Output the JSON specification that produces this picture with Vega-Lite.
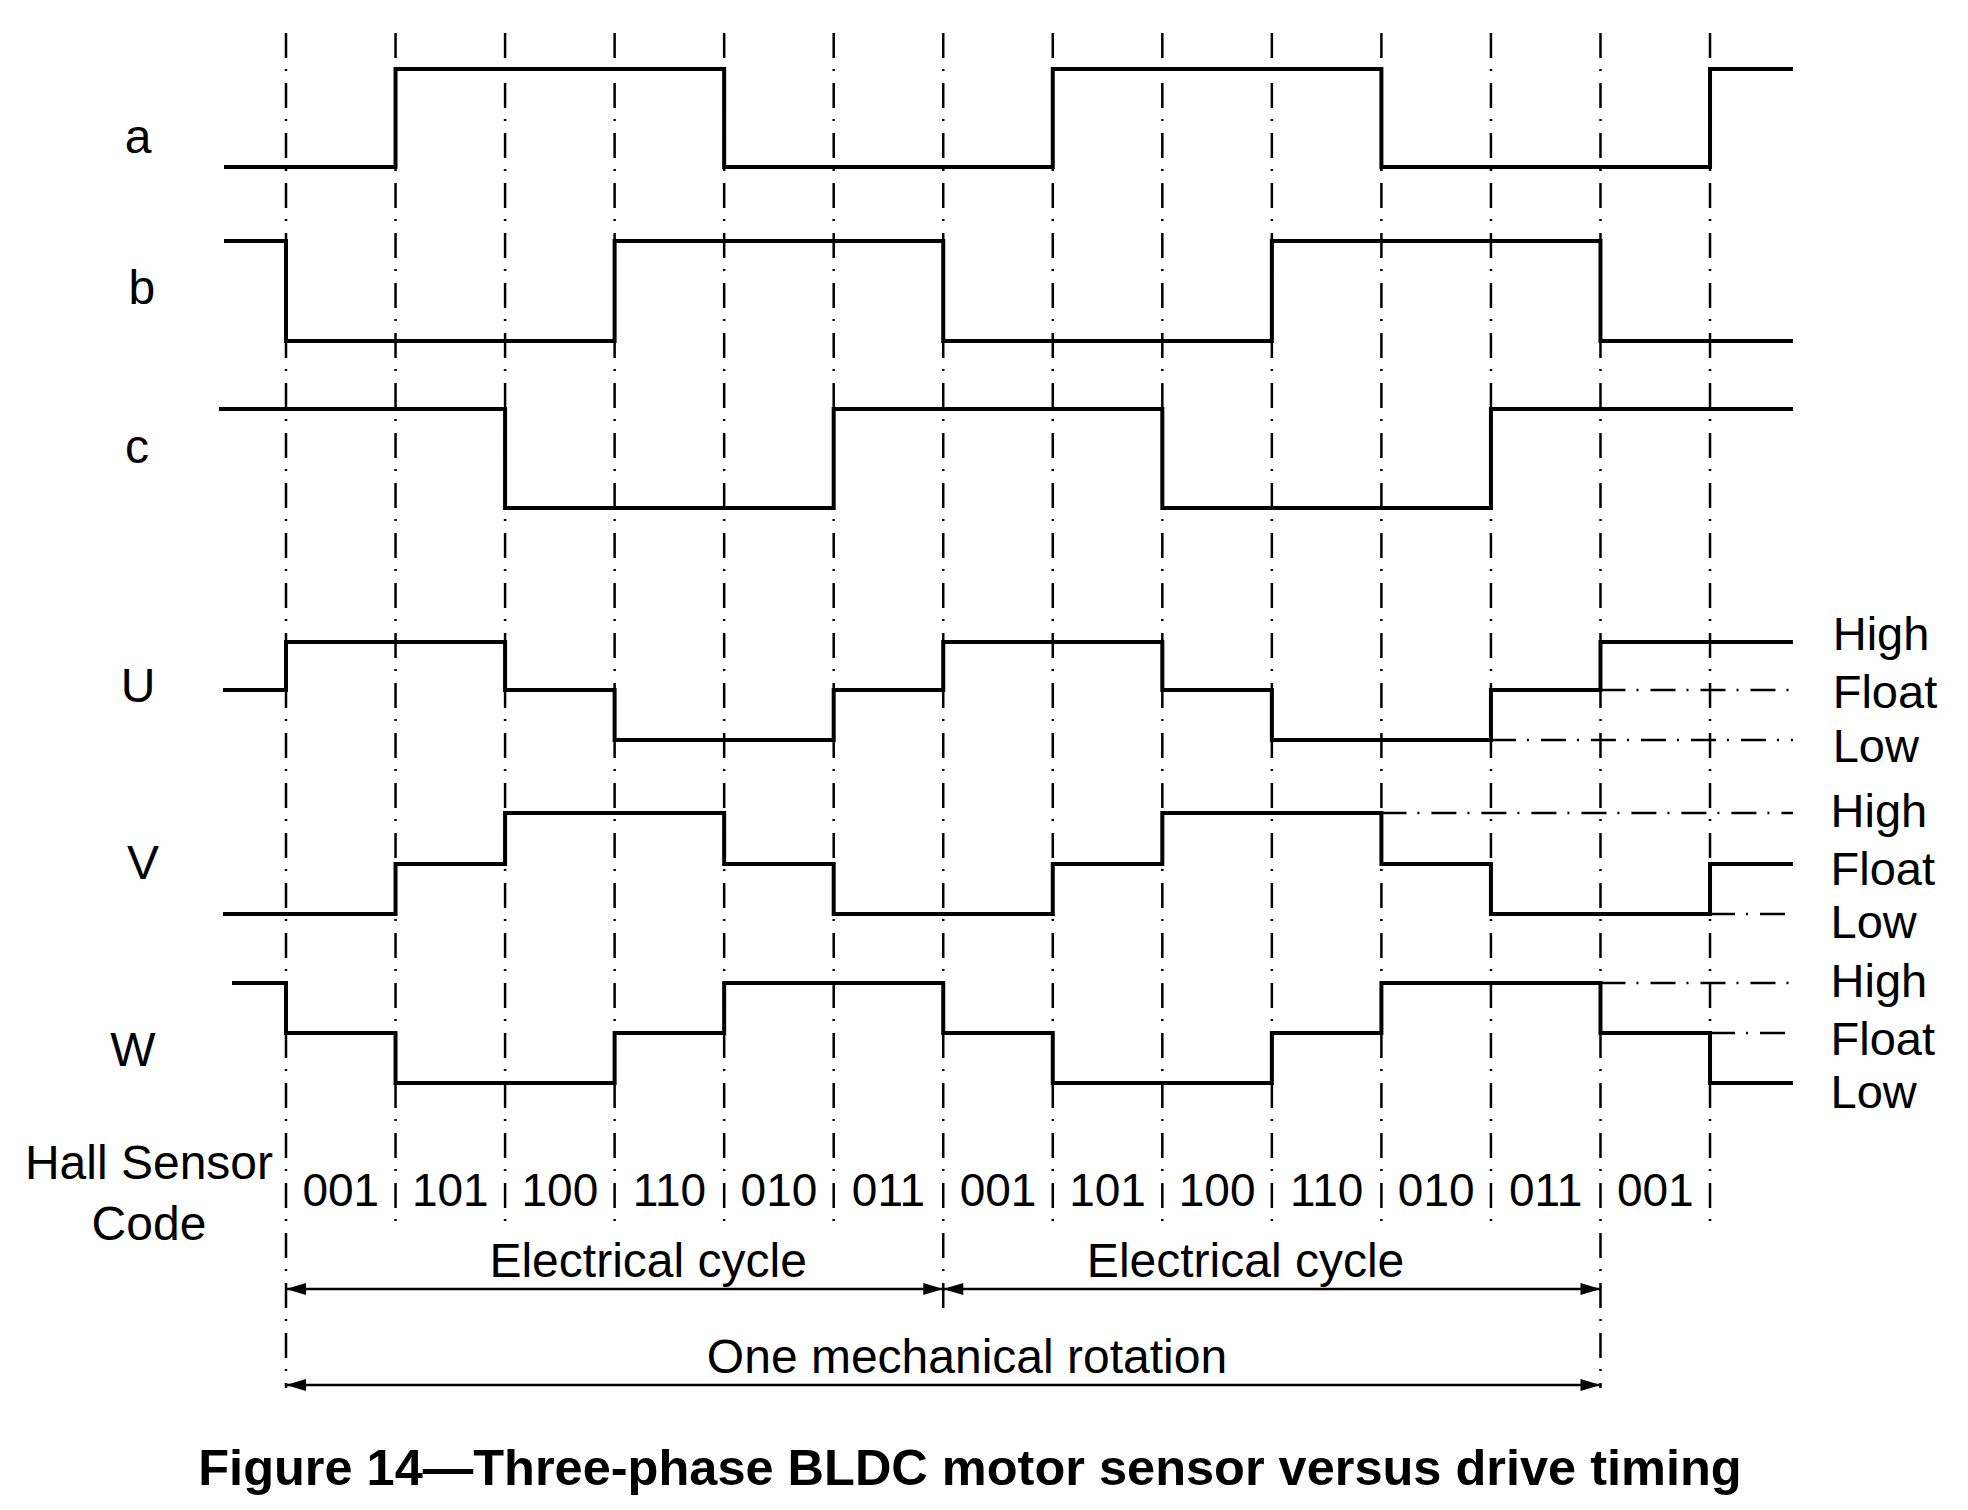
{
  "$schema": "https://vega.github.io/schema/vega-lite/v6.json",
  "width": 1968,
  "height": 1510,
  "autosize": {"type": "none"},
  "padding": 0,
  "background": "white",
  "config": {"view": {"stroke": null}, "text": {"font": "Liberation Sans", "color": "black"}},
  "datasets": {
    "signals": [
      {"sig": "a", "t": -0.566, "y": 167}, {"sig": "a", "t": 1, "y": 69}, {"sig": "a", "t": 4, "y": 167}, {"sig": "a", "t": 7, "y": 69}, {"sig": "a", "t": 10, "y": 167}, {"sig": "a", "t": 13, "y": 69}, {"sig": "a", "t": 13.757, "y": 69},
      {"sig": "b", "t": -0.566, "y": 241}, {"sig": "b", "t": 0, "y": 341}, {"sig": "b", "t": 3, "y": 241}, {"sig": "b", "t": 6, "y": 341}, {"sig": "b", "t": 9, "y": 241}, {"sig": "b", "t": 12, "y": 341}, {"sig": "b", "t": 13.757, "y": 341},
      {"sig": "c", "t": -0.612, "y": 409}, {"sig": "c", "t": 2, "y": 508}, {"sig": "c", "t": 5, "y": 409}, {"sig": "c", "t": 8, "y": 508}, {"sig": "c", "t": 11, "y": 409}, {"sig": "c", "t": 13.757, "y": 409},
      {"sig": "U", "t": -0.575, "y": 690}, {"sig": "U", "t": 0, "y": 642}, {"sig": "U", "t": 2, "y": 690}, {"sig": "U", "t": 3, "y": 740}, {"sig": "U", "t": 5, "y": 690}, {"sig": "U", "t": 6, "y": 642}, {"sig": "U", "t": 8, "y": 690}, {"sig": "U", "t": 9, "y": 740}, {"sig": "U", "t": 11, "y": 690}, {"sig": "U", "t": 12, "y": 642}, {"sig": "U", "t": 13.757, "y": 642},
      {"sig": "V", "t": -0.575, "y": 914}, {"sig": "V", "t": 1, "y": 864}, {"sig": "V", "t": 2, "y": 813}, {"sig": "V", "t": 4, "y": 864}, {"sig": "V", "t": 5, "y": 914}, {"sig": "V", "t": 7, "y": 864}, {"sig": "V", "t": 8, "y": 813}, {"sig": "V", "t": 10, "y": 864}, {"sig": "V", "t": 11, "y": 914}, {"sig": "V", "t": 13, "y": 864}, {"sig": "V", "t": 13.757, "y": 864},
      {"sig": "W", "t": -0.493, "y": 983}, {"sig": "W", "t": 0, "y": 1033}, {"sig": "W", "t": 1, "y": 1083}, {"sig": "W", "t": 3, "y": 1033}, {"sig": "W", "t": 4, "y": 983}, {"sig": "W", "t": 6, "y": 1033}, {"sig": "W", "t": 7, "y": 1083}, {"sig": "W", "t": 9, "y": 1033}, {"sig": "W", "t": 10, "y": 983}, {"sig": "W", "t": 12, "y": 1033}, {"sig": "W", "t": 13, "y": 1083}, {"sig": "W", "t": 13.757, "y": 1083}
    ],
    "grid": [
      {"t": 0, "y1": 33, "y2": 1388}, {"t": 1, "y1": 33, "y2": 1232}, {"t": 2, "y1": 33, "y2": 1232}, {"t": 3, "y1": 33, "y2": 1232}, {"t": 4, "y1": 33, "y2": 1232}, {"t": 5, "y1": 33, "y2": 1232}, {"t": 6, "y1": 33, "y2": 1318}, {"t": 7, "y1": 33, "y2": 1232}, {"t": 8, "y1": 33, "y2": 1232}, {"t": 9, "y1": 33, "y2": 1232}, {"t": 10, "y1": 33, "y2": 1232}, {"t": 11, "y1": 33, "y2": 1232}, {"t": 12, "y1": 33, "y2": 1388}, {"t": 13, "y1": 33, "y2": 1227}
    ],
    "ext": [
      {"t1": 12, "t2": 13.757, "y": 690}, {"t1": 11, "t2": 13.757, "y": 740},
      {"t1": 10, "t2": 13.757, "y": 813}, {"t1": 13, "t2": 13.757, "y": 914},
      {"t1": 12, "t2": 13.757, "y": 983}, {"t1": 13, "t2": 13.757, "y": 1033}
    ],
    "arrows": [
      {"t1": 0, "t2": 6, "y": 1289}, {"t1": 6, "t2": 12, "y": 1289}, {"t1": 0, "t2": 12, "y": 1385}
    ],
    "heads": [
      {"t": 0, "y": 1289, "dir": "L"}, {"t": 6, "y": 1289, "dir": "R"}, {"t": 6, "y": 1289, "dir": "L"}, {"t": 12, "y": 1289, "dir": "R"}, {"t": 0, "y": 1385, "dir": "L"}, {"t": 12, "y": 1385, "dir": "R"}
    ],
    "names": [
      {"label": "a", "t": -1.351, "y": 153}, {"label": "b", "t": -1.315, "y": 304}, {"label": "c", "t": -1.36, "y": 463},
      {"label": "U", "t": -1.351, "y": 702}, {"label": "V", "t": -1.305, "y": 879}, {"label": "W", "t": -1.397, "y": 1066}
    ],
    "levels": [
      {"label": "High", "t": 14.12, "y": 650}, {"label": "Float", "t": 14.12, "y": 708}, {"label": "Low", "t": 14.12, "y": 762},
      {"label": "High", "t": 14.1, "y": 827}, {"label": "Float", "t": 14.1, "y": 885}, {"label": "Low", "t": 14.1, "y": 938},
      {"label": "High", "t": 14.1, "y": 997}, {"label": "Float", "t": 14.1, "y": 1055}, {"label": "Low", "t": 14.1, "y": 1108}
    ],
    "codes": [
      {"label": "001", "t": 0.5}, {"label": "101", "t": 1.5}, {"label": "100", "t": 2.5}, {"label": "110", "t": 3.5}, {"label": "010", "t": 4.5}, {"label": "011", "t": 5.5},
      {"label": "001", "t": 6.5}, {"label": "101", "t": 7.5}, {"label": "100", "t": 8.5}, {"label": "110", "t": 9.5}, {"label": "010", "t": 10.5}, {"label": "011", "t": 11.5}, {"label": "001", "t": 12.5}
    ],
    "captions": [
      {"label": "Hall Sensor", "t": -1.251, "y": 1179}, {"label": "Code", "t": -1.251, "y": 1240},
      {"label": "Electrical cycle", "t": 3.306, "y": 1277}, {"label": "Electrical cycle", "t": 8.76, "y": 1277},
      {"label": "One mechanical rotation", "t": 6.217, "y": 1373}
    ],
    "title": [
      {"label": "Figure 14\u2014Three-phase BLDC motor sensor versus drive timing", "t": 6.244, "y": 1485}
    ]
  },
  "layer": [
    {
      "data": {"name": "grid"},
      "mark": {"type": "rule", "color": "black", "strokeWidth": 2.5, "strokeDash": [25, 11, 2, 12]},
      "encoding": {
        "x": {"field": "t", "type": "quantitative", "scale": {"domain": [-2.6109, 15.3551], "nice": false, "zero": false}, "axis": null},
        "y": {"field": "y1", "type": "quantitative", "scale": {"domain": [0, 1510], "reverse": true, "nice": false, "zero": false}, "axis": null},
        "y2": {"field": "y2"}
      }
    },
    {
      "data": {"name": "ext"},
      "mark": {"type": "rule", "color": "black", "strokeWidth": 2.5, "strokeDash": [25, 11, 2, 12]},
      "encoding": {
        "x": {"field": "t1", "type": "quantitative", "scale": {"domain": [-2.6109, 15.3551], "nice": false, "zero": false}, "axis": null},
        "x2": {"field": "t2"},
        "y": {"field": "y", "type": "quantitative", "scale": {"domain": [0, 1510], "reverse": true, "nice": false, "zero": false}, "axis": null}
      }
    },
    {
      "data": {"name": "signals"},
      "mark": {"type": "line", "color": "black", "strokeWidth": 4, "interpolate": "step-after", "strokeJoin": "miter", "strokeCap": "butt"},
      "encoding": {
        "x": {"field": "t", "type": "quantitative", "scale": {"domain": [-2.6109, 15.3551], "nice": false, "zero": false}, "axis": null},
        "y": {"field": "y", "type": "quantitative", "scale": {"domain": [0, 1510], "reverse": true, "nice": false, "zero": false}, "axis": null},
        "detail": {"field": "sig", "type": "nominal"}
      }
    },
    {
      "data": {"name": "arrows"},
      "mark": {"type": "rule", "color": "black", "strokeWidth": 2.5},
      "encoding": {
        "x": {"field": "t1", "type": "quantitative", "scale": {"domain": [-2.6109, 15.3551], "nice": false, "zero": false}, "axis": null},
        "x2": {"field": "t2"},
        "y": {"field": "y", "type": "quantitative", "scale": {"domain": [0, 1510], "reverse": true, "nice": false, "zero": false}, "axis": null}
      }
    },
    {
      "data": {"name": "heads"},
      "transform": [{"filter": "datum.dir === 'R'"}],
      "mark": {"type": "point", "shape": "M 0 0 L -2 -0.6 L -2 0.6 Z", "filled": true, "color": "black", "opacity": 1, "size": 400, "strokeWidth": 0},
      "encoding": {
        "x": {"field": "t", "type": "quantitative", "scale": {"domain": [-2.6109, 15.3551], "nice": false, "zero": false}, "axis": null},
        "y": {"field": "y", "type": "quantitative", "scale": {"domain": [0, 1510], "reverse": true, "nice": false, "zero": false}, "axis": null}
      }
    },
    {
      "data": {"name": "heads"},
      "transform": [{"filter": "datum.dir === 'L'"}],
      "mark": {"type": "point", "shape": "M 0 0 L 2 -0.6 L 2 0.6 Z", "filled": true, "color": "black", "opacity": 1, "size": 400, "strokeWidth": 0},
      "encoding": {
        "x": {"field": "t", "type": "quantitative", "scale": {"domain": [-2.6109, 15.3551], "nice": false, "zero": false}, "axis": null},
        "y": {"field": "y", "type": "quantitative", "scale": {"domain": [0, 1510], "reverse": true, "nice": false, "zero": false}, "axis": null}
      }
    },
    {
      "data": {"name": "names"},
      "mark": {"type": "text", "fontSize": 48, "align": "center", "baseline": "alphabetic"},
      "encoding": {
        "x": {"field": "t", "type": "quantitative", "scale": {"domain": [-2.6109, 15.3551], "nice": false, "zero": false}, "axis": null},
        "y": {"field": "y", "type": "quantitative", "scale": {"domain": [0, 1510], "reverse": true, "nice": false, "zero": false}, "axis": null},
        "text": {"field": "label"}
      }
    },
    {
      "data": {"name": "levels"},
      "mark": {"type": "text", "fontSize": 47, "align": "left", "baseline": "alphabetic"},
      "encoding": {
        "x": {"field": "t", "type": "quantitative", "scale": {"domain": [-2.6109, 15.3551], "nice": false, "zero": false}, "axis": null},
        "y": {"field": "y", "type": "quantitative", "scale": {"domain": [0, 1510], "reverse": true, "nice": false, "zero": false}, "axis": null},
        "text": {"field": "label"}
      }
    },
    {
      "data": {"name": "codes"},
      "mark": {"type": "text", "fontSize": 46, "align": "center", "baseline": "alphabetic"},
      "encoding": {
        "x": {"field": "t", "type": "quantitative", "scale": {"domain": [-2.6109, 15.3551], "nice": false, "zero": false}, "axis": null},
        "y": {"datum": 1206, "type": "quantitative", "scale": {"domain": [0, 1510], "reverse": true, "nice": false, "zero": false}, "axis": null},
        "text": {"field": "label"}
      }
    },
    {
      "data": {"name": "captions"},
      "mark": {"type": "text", "fontSize": 48, "align": "center", "baseline": "alphabetic"},
      "encoding": {
        "x": {"field": "t", "type": "quantitative", "scale": {"domain": [-2.6109, 15.3551], "nice": false, "zero": false}, "axis": null},
        "y": {"field": "y", "type": "quantitative", "scale": {"domain": [0, 1510], "reverse": true, "nice": false, "zero": false}, "axis": null},
        "text": {"field": "label"}
      }
    },
    {
      "data": {"name": "title"},
      "mark": {"type": "text", "fontSize": 50.5, "fontWeight": "bold", "align": "center", "baseline": "alphabetic"},
      "encoding": {
        "x": {"field": "t", "type": "quantitative", "scale": {"domain": [-2.6109, 15.3551], "nice": false, "zero": false}, "axis": null},
        "y": {"field": "y", "type": "quantitative", "scale": {"domain": [0, 1510], "reverse": true, "nice": false, "zero": false}, "axis": null},
        "text": {"field": "label"}
      }
    }
  ]
}
